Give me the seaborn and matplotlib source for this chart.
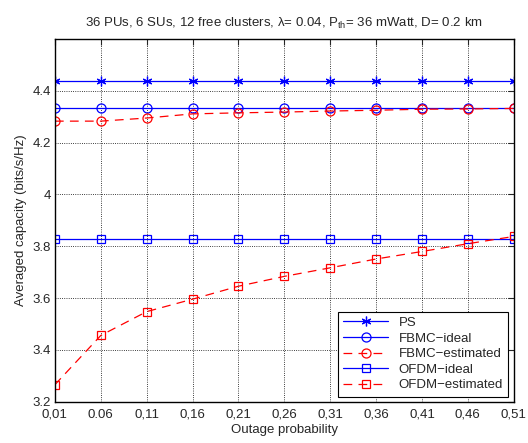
import numpy as np
import pandas as pd
import matplotlib
matplotlib.use("Agg")
import matplotlib.pyplot as plt
import seaborn as sns

# data
outage = [0.01, 0.06, 0.11, 0.16, 0.21, 0.26, 0.31, 0.36, 0.41, 0.46, 0.51]
xtick_labels = ['0,01', '0.06', '0,11', '0,16', '0,21', '0,26', '0,31', '0,36', '0,41', '0,46', '0,51']
ps = [4.437] * 11
fbmc_ideal = [4.332] * 11
fbmc_est = [4.283, 4.283, 4.295, 4.311, 4.315, 4.318, 4.322, 4.325, 4.329, 4.330, 4.332]
ofdm_ideal = [3.830] * 11
ofdm_est = [3.266, 3.456, 3.548, 3.596, 3.646, 3.684, 3.717, 3.751, 3.780, 3.810, 3.838]

sns.set_style("white")
plt.rcParams['font.family'] = ['Liberation Sans', 'DejaVu Sans']
plt.rcParams['mathtext.fontset'] = 'custom'
plt.rcParams['mathtext.rm'] = 'Liberation Sans'

fig = plt.figure(figsize=(5.28, 4.43), dpi=100)
ax = fig.add_axes([0.104, 0.093, 0.869, 0.819])

# asterisk marker like matlab '*'
star = (6, 2, 0)
series = [
    ('PS', ps, 'blue', star, '-', 7),
    ('FBMC\u2212ideal', fbmc_ideal, 'blue', 'o', '-', 6.5),
    ('FBMC\u2212estimated', fbmc_est, 'red', 'o', '--', 6.5),
    ('OFDM\u2212ideal', ofdm_ideal, 'blue', 's', '-', 6),
    ('OFDM\u2212estimated', ofdm_est, 'red', 's', '--', 6),
]

for name, vals, col, mk, ls, ms in series:
    df = pd.DataFrame({'x': outage, 'y': vals})
    sns.lineplot(data=df, x='x', y='y', ax=ax, color=col, marker=mk,
                 linewidth=0.9, markersize=ms,
                 markerfacecolor='none', markeredgecolor=col, markeredgewidth=0.9,
                 label=name)
    if ls == '--':
        ax.lines[-1].set_dashes((7, 5))

ax.set_xlim(0.01, 0.51)
ax.set_ylim(3.2, 4.6)
ax.set_xticks(outage)
ax.set_xticklabels(xtick_labels)
ax.set_yticks([3.2, 3.4, 3.6, 3.8, 4.0, 4.2, 4.4])
ax.set_yticklabels(['3.2', '3.4', '3.6', '3.8', '4', '4.2', '4.4'])
ax.tick_params(direction='in', length=4, width=0.8, labelsize=9.5, top=True, right=True)
ax.tick_params(axis='x', pad=5)
ax.tick_params(axis='y', pad=3)
ax.grid(True, linestyle=':', color='black', linewidth=0.6)
for sp in ax.spines.values():
    sp.set_color('black')
    sp.set_linewidth(1.0)

ax.set_xlabel('Outage probability', fontsize=9.5, labelpad=2)
ax.set_ylabel('Averaged capacity (bits/s/Hz)', fontsize=9.5, labelpad=4)
ax.set_title(r'36 PUs, 6 SUs, 12 free clusters, λ= 0.04, $\mathrm{P_{th}}$= 36 mWatt, D= 0.2 km',
             fontsize=9.5, pad=9)

leg = ax.legend(loc='lower right', fontsize=9.5, frameon=True, fancybox=False,
                edgecolor='black', framealpha=1, borderaxespad=0.4, handlelength=3.4,
                labelspacing=0.25, borderpad=0.4)
leg.get_frame().set_linewidth(0.8)
for h in leg.get_lines():
    if h.get_color() == 'red':
        h.set_dashes((7, 5))

fig.savefig('out.png', dpi=100)
